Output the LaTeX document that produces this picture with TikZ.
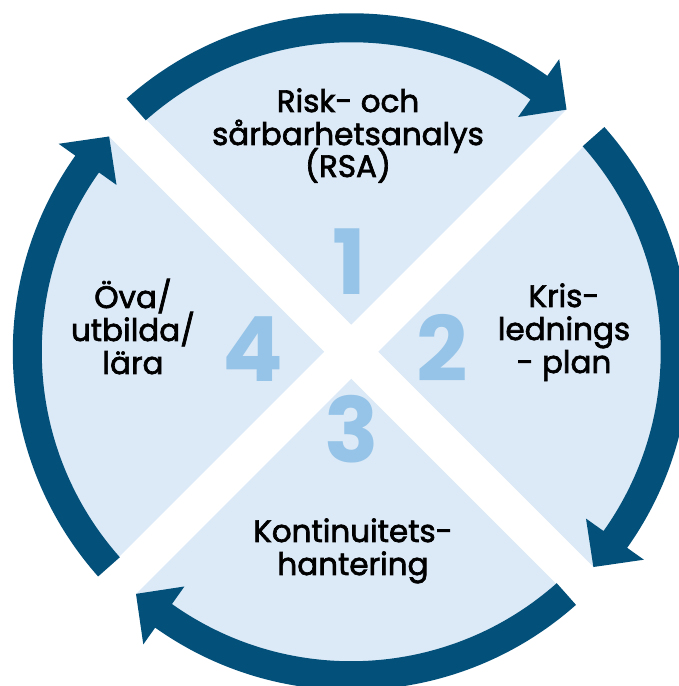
\documentclass[tikz,border=0pt]{standalone}
\usepackage{fontspec}
\setmainfont{Poppins}
\newfontfamily\lblfont{Poppins}[FakeBold=2.2]
\definecolor{arrowblue}{HTML}{03517A}
\definecolor{lightfill}{HTML}{DCE9F6}
\definecolor{numblue}{HTML}{95C4E8}
\begin{document}
\begin{tikzpicture}[x=1pt,y=1pt,
  lbl/.style={anchor=base, font=\lblfont\fontsize{31}{33}\selectfont, inner sep=0pt},
  num/.style={anchor=base, font=\fontsize{90}{90}\selectfont\bfseries, text=numblue, inner sep=0pt},
  cyclearrow/.style={fill=arrowblue},
  gap/.style={draw=white, line width=38pt}]
\clip (0,0) rectangle (679,686);
\coordinate (C) at (351.25,334.25);
\fill[lightfill] (C) circle[radius=324];
\begin{scope}[shift={(C)}]
  \draw[gap] (135:420) -- (-45:420);
  \draw[gap] (45:420) -- (-135:420);
  \foreach \r in {0,-90,-180,-270}{
    \fill[cyclearrow, rotate=\r] (131.6:338.5) arc[start angle=131.6, end angle=54.6, radius=338.5]
      -- (54.6:359) -- (48.36:324) -- (54.6:288) -- (54.6:309.5)
      arc[start angle=54.6, end angle=131.6, radius=309.5] -- cycle;
  }
\end{scope}
% numbers
\node[num] (n1) at (349.5,391) {1};
\node[num] (n2) at (442.5,304) {2};
\node[num] (n3) at (351.5,223) {3};
\node[num] (n4) at (253,304) {4};
% labels
\node[lbl] (rsa1) at (348,574) {Risk- och};
\node[lbl] (rsa2) at (348,541) {sårbarhetsanalys};
\node[lbl] (rsa3) at (348,509) {(RSA)};
\node[lbl] (kris1) at (564,379) {Kris-};
\node[lbl] (kris2) at (564,346) {lednings};
\node[lbl] (kris3) at (564,313) {- plan};
\node[lbl] (kont1) at (353,144) {Kontinuitets-};
\node[lbl] (kont2) at (353,111) {hantering};
\node[lbl] (ova1) at (133,378) {Öva/};
\node[lbl] (ova2) at (133,345) {utbilda/};
\node[lbl] (ova3) at (133,312) {lära};
\end{tikzpicture}
\end{document}
